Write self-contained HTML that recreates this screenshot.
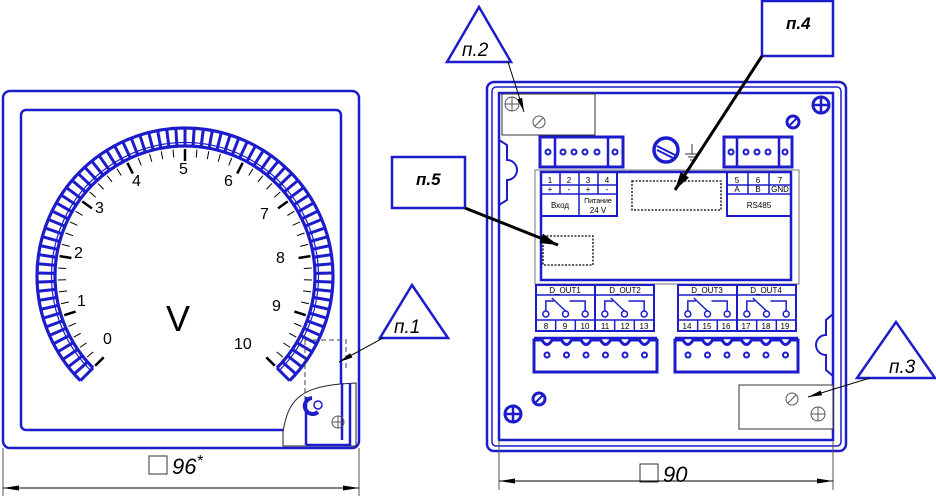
<!DOCTYPE html>
<html><head><meta charset="utf-8"><style>
html,body{margin:0;padding:0;background:#fff;width:936px;height:498px;overflow:hidden}
svg{display:block}
text{font-family:"Liberation Sans",sans-serif}
</style></head><body>
<svg id="s" width="936" height="498" viewBox="0 0 936 498" xmlns="http://www.w3.org/2000/svg">
<g fill="none" stroke="#1c1ccc">
<!-- LEFT PANEL -->
<rect x="3" y="91" width="356" height="357" rx="7" stroke-width="2.5"/>
<rect x="21" y="110" width="320" height="320" rx="5" stroke-width="2.5"/>
<g id="band"></g>
<path d="M283,432 C288,400 300,388 340,384 L356,383 L356,446 L283,446 Z" fill="#fff" stroke-width="1" stroke="#223"/>
<path d="M306,445 L306,397 M306,445 L350,445 L350,383 M342,440 L342,383" stroke-width="2.5"/>
<path d="M305,340 L346,340 L346,368 M305,340 L305,400" stroke="#444" stroke-width="1" stroke-dasharray="5,3"/>
<path d="M312,398 a8,8 0 1,0 6,14" stroke-width="4"/>
<circle cx="318" cy="405" r="4" stroke-width="1.5"/>
<circle cx="338" cy="422" r="6" stroke="#555" stroke-width="1"/>
<path d="M332,422 h12 M338,416 v12" stroke="#555" stroke-width="1"/>
<!-- RIGHT PANEL -->
<rect x="487" y="82" width="359" height="369" rx="7" stroke-width="2.5"/>
<rect x="492" y="87" width="349" height="359" rx="4" stroke-width="1.5"/>
<rect x="499" y="93" width="334" height="347" stroke-width="2.5"/>
<rect x="502" y="94" width="93" height="41" stroke="#333" stroke-width="1" fill="#fff"/>
<circle cx="512" cy="104" r="7" stroke="#555" stroke-width="1"/><path d="M505,104h14M512,97v14" stroke="#555" stroke-width="1"/>
<circle cx="539" cy="122" r="6" stroke="#555" stroke-width="1"/><path d="M535,126l8,-8" stroke="#555" stroke-width="1"/>
<path d="M499,140 L507,145 L507,160 A10,10 0 0,1 507,180 L507,200 L499,205" stroke-width="2"/>
<path d="M833,314 L826,320 L826,335 A10,10 0 0,0 826,355 L826,370 L833,376" stroke-width="2"/>
<rect x="540" y="137" width="83" height="30" stroke-width="3"/>
<path d="M555,137v30M608,137v30" stroke-width="2.5"/>
<g id="tc1"></g>
<rect x="724" y="137" width="68" height="30" stroke-width="3"/>
<path d="M737,137v30M779,137v30" stroke-width="2.5"/>
<circle cx="666" cy="150" r="12" stroke-width="3.5"/>
<path d="M657,146 L675,155 M657,150 L675,159" stroke-width="2"/>
<path d="M692,144v10 M685,154h14 M688,157h8 M690,160h4" stroke="#333" stroke-width="1"/>
<circle cx="793" cy="122" r="6" stroke-width="3"/><path d="M789,126l8,-8" stroke-width="2"/>
<circle cx="821" cy="105" r="8" stroke-width="3"/><path d="M813,105h16M821,97v16" stroke-width="2.5"/>
<rect x="535" y="170" width="264" height="114" stroke="#777" stroke-width="1"/>
<rect x="541" y="172" width="250" height="108" stroke-width="2.5"/>
<rect x="541" y="172" width="76" height="44" stroke-width="2"/>
<path d="M541,185h76M541,194h76M560,172v22M579,172v44M598,172v22" stroke-width="1.5"/>
<rect x="727" y="172" width="64" height="44" stroke-width="2"/>
<path d="M727,185h64M727,194h64M748,172v22M769,172v22" stroke-width="1.5"/>
<rect x="632" y="181" width="89" height="29" stroke="#000" stroke-width="1.3" stroke-dasharray="2,1.5"/>
<rect x="543" y="236" width="50" height="29" stroke="#000" stroke-width="1.3" stroke-dasharray="2,1.5"/>
<g id="dout"></g>
<g id="bc"></g>
<rect x="739" y="385" width="94" height="44" stroke="#333" stroke-width="1" fill="#fff"/>
<circle cx="792" cy="399" r="6" stroke="#555" stroke-width="1"/><path d="M788,403l8,-8" stroke="#555" stroke-width="1"/>
<circle cx="818" cy="414" r="7" stroke="#555" stroke-width="1"/><path d="M811,414h14M818,407v14" stroke="#555" stroke-width="1"/>
<circle cx="539" cy="399" r="6" stroke-width="3"/><path d="M535,403l8,-8" stroke-width="2"/>
<circle cx="513" cy="414" r="8" stroke-width="3"/><path d="M505,414h16M513,406v16" stroke-width="2.5"/>
<path d="M479,7 L447,62 L511,62 Z" stroke-width="2.5"/>
<path d="M412,285 L380,338 L448,338 Z" stroke-width="2.5"/>
<path d="M896,322 L857,378 L935,378 Z" stroke-width="2.5"/>
<rect x="762" y="1" width="71" height="55" stroke-width="2.5"/>
<rect x="392" y="157" width="73" height="51" stroke-width="2.5"/>
</g>
<g stroke="#000" fill="none" id="lead">
<path d="M3,448V496M359,448V496M499,440V490M833,440V490" stroke-width="1" stroke="#555"/>
<rect x="149" y="456" width="18" height="18" stroke-width="1" stroke="#333"/>
<rect x="640" y="464" width="18" height="18" stroke-width="1" stroke="#333"/>
</g>
<g fill="#000">
<text x="172" y="474" font-size="22" font-style="italic">96<tspan font-size="16" dy="-8">*</tspan></text>
<text x="663" y="482" font-size="22" font-style="italic">90</text>
<text x="462" y="56" font-size="19" font-style="italic">п.2</text>
<text x="394" y="333" font-size="19" font-style="italic">п.1</text>
<text x="889" y="373" font-size="19" font-style="italic">п.3</text>
<text x="786" y="29" font-size="17" font-weight="bold" font-style="italic">п.4</text>
<text x="416" y="185" font-size="17" font-weight="bold" font-style="italic">п.5</text>
<text x="166" y="331" font-size="36">V</text>
<g font-size="16">
<text x="103" y="344">0</text><text x="77" y="306">1</text><text x="74" y="258">2</text><text x="95" y="213">3</text><text x="132" y="186">4</text><text x="179" y="174">5</text><text x="224" y="186">6</text><text x="260" y="219">7</text><text x="276" y="263">8</text><text x="272" y="311">9</text><text x="234" y="349">10</text>
</g>
<g font-size="8" text-anchor="middle">
<text x="550" y="183">1</text><text x="569" y="183">2</text><text x="588" y="183">3</text><text x="607" y="183">4</text>
<text x="550" y="192">+</text><text x="569" y="192">-</text><text x="588" y="192">+</text><text x="607" y="192">-</text>
<text x="560" y="208">Вход</text><text x="598" y="203" font-size="7">Питание</text><text x="598" y="213">24 V</text>
<text x="737" y="183">5</text><text x="758" y="183">6</text><text x="780" y="183">7</text>
<text x="737" y="192">A</text><text x="758" y="192">B</text><text x="780" y="192">GND</text>
<text x="759" y="208">RS485</text>
<text x="565" y="293">D_OUT1</text><text x="625" y="293">D_OUT2</text><text x="707" y="293">D_OUT3</text><text x="766" y="293">D_OUT4</text>
<text x="546" y="329">8</text><text x="565" y="329">9</text><text x="585" y="329">10</text>
<text x="605" y="329">11</text><text x="625" y="329">12</text><text x="644" y="329">13</text>
<text x="687" y="329">14</text><text x="707" y="329">15</text><text x="726" y="329">16</text>
<text x="746" y="329">17</text><text x="766" y="329">18</text><text x="785" y="329">19</text>
</g>
</g>
</svg>
<script>
var NS="http://www.w3.org/2000/svg";
function el(p,t,a){var e=document.createElementNS(NS,t);for(var k in a)e.setAttribute(k,a[k]);p.appendChild(e);return e;}
var band=document.getElementById("band");
var cx=185,cy=276,R1=148,R2=130;
function pt(r,d){var a=d*Math.PI/180;return [cx+r*Math.cos(a),cy-r*Math.sin(a)];}
function arc(r){var s=pt(r,225),e=pt(r,-45);return "M"+s[0]+","+s[1]+" A"+r+","+r+" 0 1,1 "+e[0]+","+e[1];}
el(band,"path",{d:arc(R1),"stroke-width":3.2});
el(band,"path",{d:arc(R2),"stroke-width":3.2});
el(band,"path",{d:arc(133.5),"stroke-width":1.2});
var N=76;
for(var i=0;i<=N;i++){var d=225-270*i/N;var a=pt(R1,d),b=pt(R2,d);el(band,"line",{x1:a[0],y1:a[1],x2:b[0],y2:b[1],"stroke-width":3});}
for(var i=0;i<=50;i++){var d=225-270*i/50;var maj=i%5==0;var a=pt(127,d),b=pt(maj?115:119,d);
 el(band,"line",{x1:a[0],y1:a[1],x2:b[0],y2:b[1],stroke:"#000","stroke-width":maj?2.5:1});}
var tc=document.getElementById("tc1");
[548,563,574,585,597,615].forEach(function(x){el(tc,"circle",{cx:x,cy:152,r:2.5,"stroke-width":2});});
[731,746,757,768,785].forEach(function(x){el(tc,"circle",{cx:x,cy:152,r:2.5,"stroke-width":2});});
var dg=document.getElementById("dout");
[[536,595],[595,654],[678,737],[737,796]].forEach(function(b){
 var x=b[0],w=b[1]-b[0];
 el(dg,"rect",{x:x,y:285,width:w,height:46,"stroke-width":2});
 el(dg,"path",{d:"M"+x+",295h"+w+"M"+x+",320h"+w,"stroke-width":1.5});
 var s=w/3;
 for(var k=0;k<3;k++){var px=x+s*k+s/2;el(dg,"circle",{cx:px,cy:314,r:3,"stroke-width":1.5});
  el(dg,"line",{x1:x+s*(k+1),y1:320,x2:x+s*(k+1),y2:331,"stroke-width":1.5});}
 var p0=x+s/2,p1=x+1.5*s,p2=x+2.5*s;
 el(dg,"path",{d:"M"+p0+",311V301H"+(p0+8)+" M"+(p0+6)+",298L"+(p1)+",311 M"+(p1+4)+",301H"+p2+"V311","stroke-width":1.5});
});
var bc=document.getElementById("bc");
[534,675].forEach(function(x){
 var w=123;
 var d="M"+x+",372V340";
 for(var k=0;k<6;k++){var x0=x+3+k*19.5;d+=" L"+(x0+5)+",340 Q"+(x0+10)+",349 "+(x0+15)+",340";}
 d+=" L"+(x+w)+",340V372Z";
 el(bc,"path",{d:d,"stroke-width":3});
 el(bc,"line",{x1:x,y1:338,x2:x+w,y2:338,"stroke-width":2.5});
 for(var k=0;k<6;k++)el(bc,"circle",{cx:x+13+k*19.5,cy:355,r:2.5,"stroke-width":2});
});
var lg=document.getElementById("lead");
function arrow(x1,y1,x2,y2,sw,L,W){
 el(lg,"line",{x1:x1,y1:y1,x2:x2,y2:y2,"stroke-width":sw});
 var dx=x2-x1,dy=y2-y1,l=Math.sqrt(dx*dx+dy*dy);dx/=l;dy/=l;
 var bx=x2-dx*L,by=y2-dy*L;
 el(lg,"polygon",{points:x2+","+y2+" "+(bx-dy*W)+","+(by+dx*W)+" "+(bx+dy*W)+","+(by-dx*W),fill:"#000",stroke:"none"});
}
arrow(508,62,524,112,1,14,2.5);
arrow(383,338,339,362,1,14,2.5);
arrow(870,378,808,397,1,14,2.5);
arrow(762,56,675,190,3,18,5);
arrow(465,208,558,245,3,18,5);
arrow(60,488,3,488,1,16,2.5);arrow(300,488,359,488,1,16,2.5);arrow(40,488,330,488,1,0.1,0.1);
arrow(560,481,499,481,1,16,2.5);arrow(780,481,833,481,1,16,2.5);arrow(540,481,800,481,1,0.1,0.1);
</script>
</body></html>
